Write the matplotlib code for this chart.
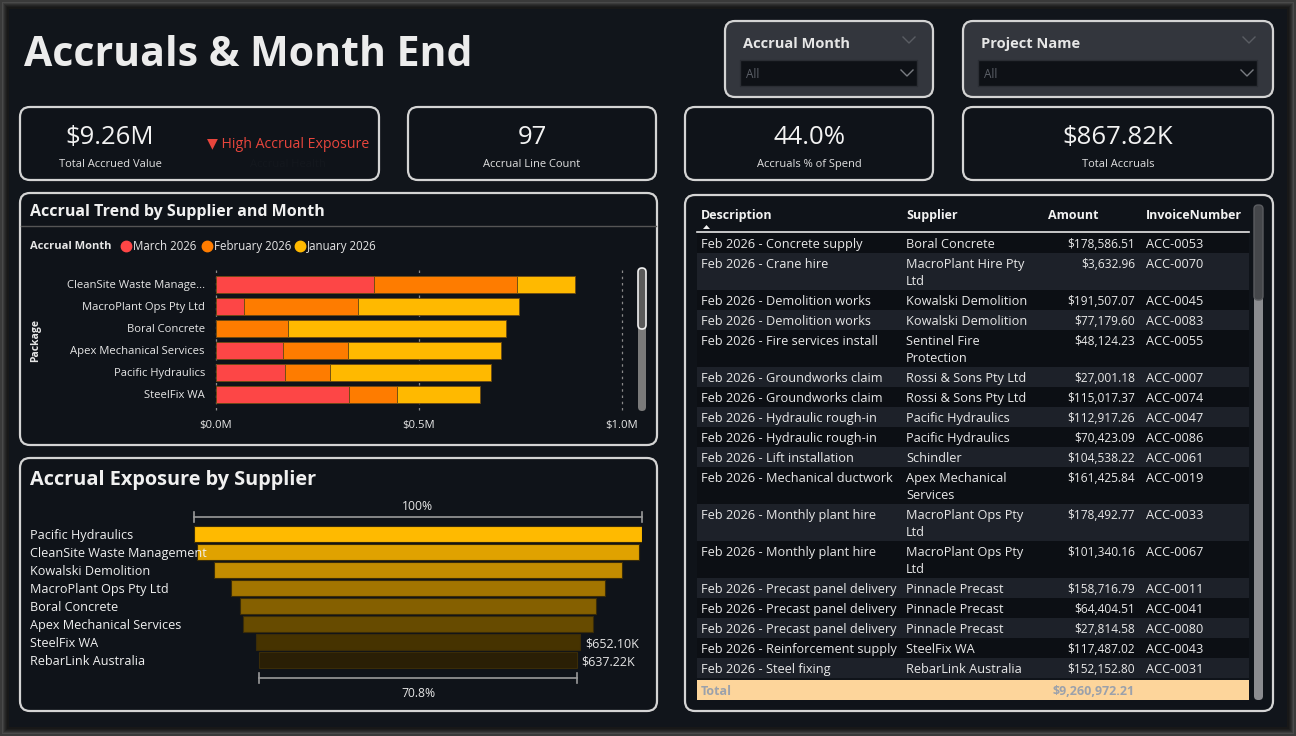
import matplotlib
matplotlib.use("Agg")
import matplotlib.pyplot as plt
from matplotlib.patches import FancyBboxPatch, Rectangle

plt.rcParams['font.family'] = ['Open Sans', 'DejaVu Sans']

W, H = 1296, 736

# ---- data ----
title = "Accruals & Month End"

kpi_values = ["$9.26M", "97", "44.0%", "$867.82K"]
kpi_labels = ["Total Accrued Value", "Accrual Line Count", "Accruals % of Spend", "Total Accruals"]
kpi_status = "▼ High Accrual Exposure"

months = ["March 2026", "February 2026", "January 2026"]
trend_suppliers = ["CleanSite Waste Manage...", "MacroPlant Ops Pty Ltd", "Boral Concrete",
                   "Apex Mechanical Services", "Pacific Hydraulics", "SteelFix WA"]
march = [0.389, 0.069, 0.0, 0.166, 0.171, 0.327]
february = [0.352, 0.280, 0.178, 0.160, 0.111, 0.119]
january = [0.144, 0.398, 0.536, 0.376, 0.396, 0.204]
trend_ticks = [0.0, 0.5, 1.0]
trend_tick_labels = ["$0.0M", "$0.5M", "$1.0M"]

funnel_suppliers = ["Pacific Hydraulics", "CleanSite Waste Management", "Kowalski Demolition",
                    "MacroPlant Ops Pty Ltd", "Boral Concrete", "Apex Mechanical Services",
                    "SteelFix WA", "RebarLink Australia"]
funnel_values = [900.0, 887.5, 821.0, 750.5, 716.0, 704.5, 652.10, 637.22]  # $K

table_desc = ["Feb 2026 - Concrete supply", "Feb 2026 - Crane hire", "Feb 2026 - Demolition works",
              "Feb 2026 - Demolition works", "Feb 2026 - Fire services install",
              "Feb 2026 - Groundworks claim", "Feb 2026 - Groundworks claim",
              "Feb 2026 - Hydraulic rough-in", "Feb 2026 - Hydraulic rough-in",
              "Feb 2026 - Lift installation", "Feb 2026 - Mechanical ductwork",
              "Feb 2026 - Monthly plant hire", "Feb 2026 - Monthly plant hire",
              "Feb 2026 - Precast panel delivery", "Feb 2026 - Precast panel delivery",
              "Feb 2026 - Precast panel delivery", "Feb 2026 - Reinforcement supply",
              "Feb 2026 - Steel fixing"]
table_supplier = ["Boral Concrete", "MacroPlant Hire Pty\nLtd", "Kowalski Demolition",
                  "Kowalski Demolition", "Sentinel Fire\nProtection", "Rossi & Sons Pty Ltd",
                  "Rossi & Sons Pty Ltd", "Pacific Hydraulics", "Pacific Hydraulics", "Schindler",
                  "Apex Mechanical\nServices", "MacroPlant Ops Pty\nLtd", "MacroPlant Ops Pty\nLtd",
                  "Pinnacle Precast", "Pinnacle Precast", "Pinnacle Precast", "SteelFix WA",
                  "RebarLink Australia"]
table_amount = [178586.51, 3632.96, 191507.07, 77179.60, 48124.23, 27001.18, 115017.37,
                112917.26, 70423.09, 104538.22, 161425.84, 178492.77, 101340.16, 158716.79,
                64404.51, 27814.58, 117487.02, 152152.80]
table_invoice = ["ACC-0053", "ACC-0070", "ACC-0045", "ACC-0083", "ACC-0055", "ACC-0007",
                 "ACC-0074", "ACC-0047", "ACC-0086", "ACC-0061", "ACC-0019", "ACC-0033",
                 "ACC-0067", "ACC-0011", "ACC-0041", "ACC-0080", "ACC-0043", "ACC-0031"]
table_total = 9260972.21

# ---- colours ----
BG = "#11151b"
PANEL = "#0f1319"
BORDER = "#d4d4d4"
TXT = "#e8e8e8"
month_colors = ["#fd4646", "#fe7c00", "#ffb900"]
funnel_colors = ["#ffba00", "#e0a200", "#c38c00", "#a37500", "#856000", "#674b00", "#463300", "#2a1f05"]

fig = plt.figure(figsize=(W / 100, H / 100), dpi=100)
fig.patch.set_facecolor("#3a3a3a")

bg = fig.add_axes([0, 0, 1, 1])
bg.set_xlim(0, W)
bg.set_ylim(H, 0)
bg.axis("off")

DY = 1.8  # text sits a little high with va=center


def txt(x, y, s, **kw):
    kw.setdefault("va", "center")
    return bg.text(x, y + DY, s, **kw)


def box(x0, y0, x1, y1, fc=PANEL, ec=BORDER, lw=1.6, r=10, z=1):
    p = FancyBboxPatch((x0, y0), x1 - x0, y1 - y0,
                       boxstyle=f"round,pad=0,rounding_size={r}",
                       fc=fc, ec=ec, lw=lw, zorder=z)
    bg.add_patch(p)


def chevron(x, y, c, s=6):
    bg.plot([x - s, x, x + s], [y - s / 2, y + s / 2, y - s / 2], color=c, lw=1, zorder=5)


def axes_px(x0, y0, x1, y1):
    a = fig.add_axes([x0 / W, 1 - y1 / H, (x1 - x0) / W, (y1 - y0) / H])
    a.patch.set_alpha(0)
    return a


# outer frame
for i, c in enumerate(["#4a4a4a", "#3c3c3c", "#2f2f2f", "#262626", "#1e1e1e", "#181818"]):
    bg.add_patch(Rectangle((2 + i, 2 + i), W - 4 - 2 * i, H - 4 - 2 * i, fc=c, ec="none", zorder=0))
bg.add_patch(Rectangle((9, 9), W - 18, H - 18, fc=BG, ec="none", zorder=0))

# title
txt(24, 54, title, fontsize=29.5, fontweight="bold", color="#ececec", ha="left")

# slicers
for (x0, x1, label) in [(725, 933, "Accrual Month"), (963, 1273, "Project Name")]:
    box(x0, 21, x1, 97, fc="#33363d", ec=BORDER, lw=1.6, r=10)
    txt(x0 + 18, 42, label, fontsize=10.5, fontweight="bold", color="#e6e6e6")
    chevron(x1 - 24, 40, "#5a5d63")
    bg.add_patch(Rectangle((x0 + 15, 60), x1 - x0 - 31, 26, fc="#0e1116", ec="#2a2d33", lw=1, zorder=2))
    txt(x0 + 21, 73, "All", fontsize=8.5, color="#5c6068")
    chevron(x1 - 26, 73, "#7a7d83")

# KPI cards
cards = [(20, 379, 110), (408, 656, 532), (685, 933, 809), (963, 1273, 1118)]
for (x0, x1, cx), v, lab in zip(cards, kpi_values, kpi_labels):
    box(x0, 107, x1, 180, fc=PANEL, ec=BORDER, lw=1.6, r=10)
    txt(cx, 136, v, fontsize=18.5, color="#f2f2f2", ha="center")
    txt(cx, 163, lab, fontsize=8, color="#e0e0e0", ha="center")
txt(288, 143, kpi_status, fontsize=10.2, color="#e8453c", ha="center")
txt(288, 163, "Accrual Health", fontsize=8, color="#14181e", ha="center")

# ---- trend panel ----
box(20, 193, 657, 445, fc=PANEL, ec=BORDER, lw=1.6, r=10)
txt(30, 210, "Accrual Trend by Supplier and Month", fontsize=11.5, fontweight="bold",
    color="#f0f0f0")
bg.plot([21, 656], [226, 226], color="#555555", lw=1, zorder=2)
txt(30, 245, "Accrual Month", fontsize=8, fontweight="bold", color="#e6e6e6")
lx = [126, 207, 300]
for x, m, c in zip(lx, months, month_colors):
    bg.plot(x, 246, "o", ms=7.5, color=c, zorder=3)
    txt(x + 7, 245, m, fontsize=8.3, color="#e6e6e6")
txt(36, 339, "Package", fontsize=7.5, fontweight="bold", color="#e6e6e6",
    rotation=90, ha="center")

ax = axes_px(216, 270, 622, 410)
ypos = list(range(len(trend_suppliers)))
left = [0.0] * len(ypos)
for vals, c in zip([march, february, january], month_colors):
    ax.barh(ypos, vals, left=left, height=0.78, color=c, edgecolor="#6b4a12", lw=0.6, zorder=3)
    left = [a + b for a, b in zip(left, vals)]
ax.set_xlim(0, 1.0)
ax.set_ylim(5.72, -0.64)
for t in trend_ticks:
    ax.axvline(t, color="#8a8a8a", lw=0.9, ls=(0, (2, 3)), zorder=1, clip_on=False)
ax.set_xticks(trend_ticks)
ax.set_xticklabels(trend_tick_labels)
ax.set_yticks(ypos)
ax.set_yticklabels(trend_suppliers)
ax.tick_params(axis="both", length=0, colors="#e6e6e6", labelsize=8.1)
ax.tick_params(axis="x", pad=7)
ax.tick_params(axis="y", pad=8)
for s in ax.spines.values():
    s.set_visible(False)

# trend scrollbar
box(638, 268, 646, 411, fc="#7a7a7a", ec="none", lw=0, r=4, z=4)
box(638, 268, 646, 329, fc="#5a5a5a", ec="#f0f0f0", lw=1.2, r=4, z=5)

# ---- funnel panel ----
box(20, 458, 657, 711, fc=PANEL, ec=BORDER, lw=1.6, r=10)
txt(30, 478, "Accrual Exposure by Supplier", fontsize=14.3, fontweight="bold", color="#f0f0f0")

fx0, fx1 = 194, 642
fa = axes_px(fx0, 525, fx1, 669)
half = funnel_values[0] / 2
fy = list(range(len(funnel_values)))
fa.barh(fy, funnel_values, left=[-v / 2 for v in funnel_values], height=0.9,
        color=funnel_colors, edgecolor="#3a2c08", lw=0.8, zorder=2)
fa.set_xlim(-half, half)
fa.set_ylim(len(fy) - 0.5, -0.5)
fa.axis("off")
for i, v in enumerate(funnel_values):
    if i >= len(funnel_values) - 2:
        fa.text(v / 2 + 10, i + 0.1, f"${v:.2f}K", fontsize=9, color="#e6e6e6", va="center", ha="left")
# supplier names drawn over the bars
for i, name in enumerate(funnel_suppliers):
    fa.text(30, 534 + 18 * i + DY, name, fontsize=9.1, color="#f0f0f0", va="center",
            transform=bg.transData, clip_on=False, zorder=6)


# brackets
def bracket(xa, xb, y):
    bg.plot([xa, xb], [y, y], color="#9a9a9a", lw=1.2, zorder=3)
    bg.plot([xa, xa], [y - 5, y + 5], color="#9a9a9a", lw=1.2, zorder=3)
    bg.plot([xb, xb], [y - 5, y + 5], color="#9a9a9a", lw=1.2, zorder=3)


cx = (fx0 + fx1) / 2
scale = (fx1 - fx0) / funnel_values[0]
bracket(fx0, fx1, 517)
txt(cx, 505, "100%", fontsize=8.7, color="#e6e6e6", ha="center")
last = funnel_values[-1]
bracket(cx - last * scale / 2, cx + last * scale / 2, 678)
txt(cx, 692, f"{last / funnel_values[0] * 100:.1f}%", fontsize=8.7, color="#e6e6e6", ha="center")

# ---- table panel ----
box(685, 195, 1273, 711, fc=PANEL, ec=BORDER, lw=1.6, r=10)
HS = 9
txt(701, 214, "Description", fontsize=HS, fontweight="bold", color="#f2f2f2")
txt(906, 214, "Supplier", fontsize=HS, fontweight="bold", color="#f2f2f2")
txt(1098, 214, "Amount", fontsize=HS, fontweight="bold", color="#f2f2f2", ha="right")
txt(1146, 214, "InvoiceNumber", fontsize=HS, fontweight="bold", color="#f2f2f2")
bg.add_patch(plt.Polygon([[703, 229], [706.5, 225], [710, 229]], closed=True, fc="#f2f2f2", ec="none", zorder=5))
bg.plot([697, 1249], [232, 232], color="#e6e6e6", lw=1.2, zorder=4)

TS = 9.2
y = 233
for i in range(len(table_desc)):
    nlines = max(table_desc[i].count("\n"), table_supplier[i].count("\n")) + 1
    h = 20 if nlines == 1 else 37
    fc = "#0c0f14" if i % 2 == 0 else "#1d2129"
    bg.add_patch(Rectangle((697, y), 552, h, fc=fc, ec="none", zorder=2))
    ty = y + 10
    txt(701, ty, table_desc[i], fontsize=TS, color=TXT, zorder=3)
    for k, line in enumerate(table_supplier[i].split("\n")):
        txt(906, ty + 17 * k, line, fontsize=TS, color=TXT, zorder=3)
    txt(1135, ty, f"${table_amount[i]:,.2f}", fontsize=8.6, color=TXT, ha="right", zorder=3)
    txt(1146, ty, table_invoice[i], fontsize=TS, color=TXT, zorder=3)
    y += h

bg.add_patch(Rectangle((697, 680), 552, 20, fc="#fdd59b", ec="none", zorder=2))
txt(701, 690, "Total", fontsize=9, fontweight="bold", color="#9ba1ab", zorder=3)
txt(1135, 690, f"${table_total:,.2f}", fontsize=9, fontweight="bold", color="#9ba1ab",
    ha="right", zorder=3)

# table scrollbar
box(1254, 205, 1263, 700, fc="#8b8c90", ec="none", lw=0, r=4, z=4)
box(1254, 205, 1263, 300, fc="#45474b", ec="#5a5c60", lw=1, r=4, z=5)

fig.savefig("out.png", dpi=100, facecolor=fig.get_facecolor())
